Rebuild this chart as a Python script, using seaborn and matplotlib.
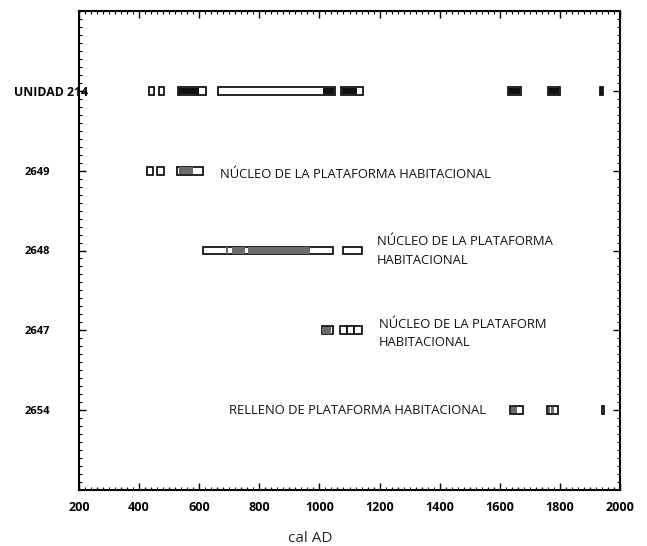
import matplotlib
matplotlib.use("Agg")
import matplotlib.pyplot as plt
import matplotlib.transforms as mtransforms
from matplotlib.ticker import MultipleLocator, FixedLocator
import seaborn as sns

sns.set_theme(style="ticks")
plt.rcParams['font.family'] = ['Open Sans', 'DejaVu Sans']

# ---- data (cal AD ranges) ----
categories = ["UNIDAD 214", "2649", "2648", "2647", "2654"]
y_levels = [5, 4, 3, 2, 1]

u214_outer = [(433, 449), (466, 483), (530, 621), (663, 1052), (1072, 1145),
              (1627, 1672), (1760, 1800), (1933, 1943)]
u214_inner = [(533, 600), (1011, 1049), (1076, 1126), (1630, 1668),
              (1763, 1797), (1933, 1943)]

s2649_outer = [(425, 447), (460, 483), (527, 613)]
s2649_inner = [(533, 580)]

s2648_outer = [(613, 1045), (1078, 1141)]
s2648_inner = [(690, 697), (708, 752), (762, 968)]

s2647_outer = [(1007, 1046), (1068, 1091), (1091, 1115), (1115, 1140)]
s2647_inner = [(1010, 1040)]

s2654_outer = [(1634, 1678), (1756, 1794), (1939, 1947)]
s2654_inner = [(1637, 1656), (1760, 1767), (1772, 1779)]

outer_sets = [u214_outer, s2649_outer, s2648_outer, s2647_outer, s2654_outer]
inner_sets = [u214_inner, s2649_inner, s2648_inner, s2647_inner, s2654_inner]
inner_colors = ["#111111", "#6b6b6b", "#6b6b6b", "#6b6b6b", "#6b6b6b"]

annotations = [
    ("NÚCLEO DE LA PLATAFORMA HABITACIONAL", 669, 3.95, 1.2),
    ("NÚCLEO DE LA PLATAFORMA\nHABITACIONAL", 1191, 2.99, 1.6),
    ("NÚCLEO DE LA PLATAFORM\nHABITACIONAL", 1198, 1.96, 1.45),
    ("RELLENO DE PLATAFORMA HABITACIONAL", 699, 1.0, 1.2),
]

# ---- figure ----
fig = plt.figure(figsize=(6.47, 5.46), dpi=100)
ax = fig.add_axes([79 / 647, 56 / 546, 541 / 647, 479 / 546])
bar_h = 0.1

for y, outs, ins, col in zip(y_levels, outer_sets, inner_sets, inner_colors):
    ax.barh([y] * len(outs), [b - a for a, b in outs], left=[a for a, b in outs],
            height=bar_h, color="white", edgecolor="black", linewidth=1.2, zorder=2)
    ax.barh([y] * len(ins), [b - a for a, b in ins], left=[a for a, b in ins],
            height=bar_h * 0.8, color=col, edgecolor="none", linewidth=0, zorder=3)

for txt, x, y, ls in annotations:
    ax.text(x, y, txt, fontsize=9.4, va="center", ha="left", color="#111111",
            linespacing=ls)

ax.set_xlim(200, 2000)
ax.set_ylim(0, 6)
ax.xaxis.set_major_locator(MultipleLocator(200))
ax.xaxis.set_minor_locator(MultipleLocator(20))
ax.yaxis.set_major_locator(FixedLocator(y_levels))
ax.yaxis.set_minor_locator(MultipleLocator(0.1))
ax.set_yticklabels(categories)

ax.tick_params(axis="both", which="both", direction="in", top=True, right=True,
               colors="black")
ax.tick_params(axis="both", which="major", length=5, width=1.0)
ax.tick_params(axis="both", which="minor", length=2.5, width=0.8)
ax.tick_params(axis="x", which="major", pad=8, labelsize=9)
ax.tick_params(axis="y", which="major", pad=21, labelsize=8)

ylabs = ax.get_yticklabels()
for lab in ax.get_xticklabels() + ylabs:
    lab.set_fontweight("bold")

# first y label is larger and shifted right as in the reference
ylabs[0].set_fontsize(8.8)
ylabs[0].set_transform(ylabs[0].get_transform() +
                       mtransforms.ScaledTranslation(38 / 100, 0, fig.dpi_scale_trans))

for sp in ax.spines.values():
    sp.set_linewidth(1.5)
    sp.set_color("black")

ax.set_xlabel("cal AD", fontsize=11)
ax.xaxis.set_label_coords(0.427, -0.085)
ax.set_ylabel("")

fig.savefig("out.png", dpi=100)
